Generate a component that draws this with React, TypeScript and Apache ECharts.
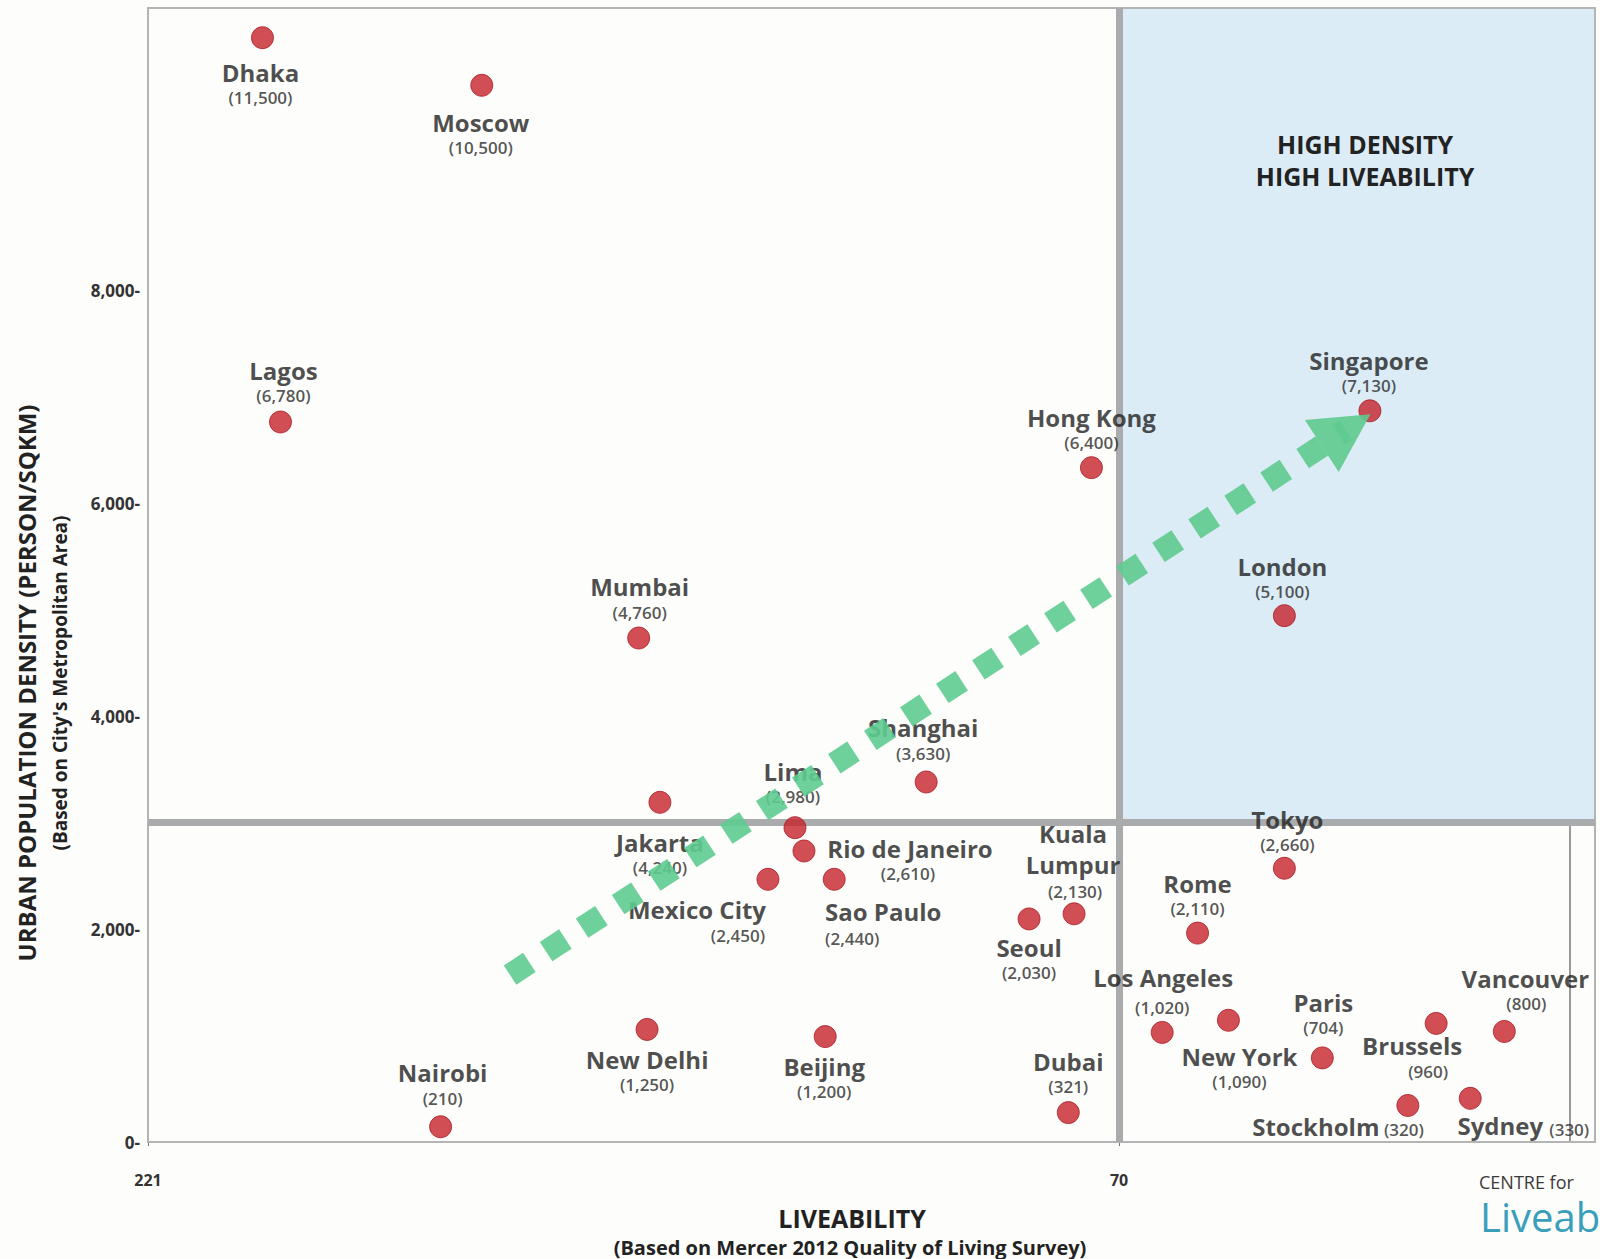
import React, { useEffect, useRef } from "react";
import * as echarts from "echarts";

// ---------- DATA ----------
const cities: string[] = [
  "Dhaka", "Moscow", "Lagos", "Mumbai", "Jakarta", "Lima", "Rio de Janeiro",
  "Mexico City", "Sao Paulo", "Shanghai", "Hong Kong", "Singapore", "London",
  "Tokyo", "Seoul", "Kuala\nLumpur", "Rome", "Los Angeles", "New York", "Paris",
  "Brussels", "Vancouver", "Stockholm", "Sydney", "Dubai", "Nairobi",
  "New Delhi", "Beijing",
];
// liveability rank (x)
const liveability: number[] = [
  203.2, 169.1, 200.4, 144.7, 141.4, 120.4, 119.0,
  124.6, 114.3, 100.0, 74.3, 31.0, 44.3,
  44.3, 84.0, 77.0, 57.8, 63.3, 53.0, 38.4,
  20.7, 10.1, 25.1, 15.4, 77.9, 175.5,
  143.4, 115.7,
];
// urban density (y)
const densityPlotted: number[] = [
  10371, 9924, 6762, 4733, 3190, 2952, 2733,
  2467, 2467, 3381, 6333, 6867, 4943,
  2571, 2095, 2143, 1962, 1029, 1143, 790,
  1114, 1038, 343, 410, 276, 143,
  1057, 990,
];
// density values as printed in the labels
const densityReported: number[] = [
  11500, 10500, 6780, 4760, 4240, 2980, 2610,
  2450, 2440, 3630, 6400, 7130, 5100,
  2660, 2030, 2130, 2110, 1020, 1090, 704,
  960, 800, 320, 330, 321, 210,
  1250, 1200,
];
const yTicks: number[] = [0, 2000, 4000, 6000, 8000];
const xTicks: number[] = [221, 70];
const quadrantX = 70;
const quadrantY = 3000;
const arrowFrom: [number, number] = [164.7, 1568];
const arrowTo: [number, number] = [34.7, 6685];

// ---------- LAYOUT (label offsets in px relative to dot) ----------
const nameOffsets: [number, number][] = [
  [-2, 35], [-1, 37], [3, -51], [1, -52], [0, 40], [-2, -56], [106, -2],
  [-71, 30], [49, 32], [-3, -54], [0, -50], [-1, -50], [-2, -49],
  [3, -49], [0, 29], [-1, -65], [0, -50], [1, -55], [11, 36], [1, -55],
  [-24, 22], [21, -53], [-92, 21], [30, 27], [0, -51], [2, -54],
  [0, 30], [-1, 30],
];
const valueOffsets: [number, number][] = [
  [-2, 60], [-1, 62], [3, -26], [1, -26], [0, 65], [-2, -31], [104, 23],
  [-30, 56], [18, 59], [-3, -28], [0, -25], [-1, -25], [-2, -24],
  [3, -24], [0, 54], [1, -22], [0, -25], [0, -25], [11, 61], [1, -30],
  [-8, 48], [22, -28], [-4, 24], [99, 31], [0, -26], [2, -28],
  [0, 55], [-1, 55],
];

const FONT = "'Open Sans', 'Noto Sans', sans-serif";
const GRID = { left: 148, right: 5, top: 8, bottom: 117 };

export default function App() {
  const ref = useRef<HTMLDivElement>(null);
  useEffect(() => {
    if (!ref.current) return;
    const W = 1600, H = 1259;
    const chart = echarts.init(ref.current, null, { renderer: "svg", width: W, height: H });

    const points = cities.map((c, i) => ({
      name: c,
      value: [liveability[i], densityPlotted[i]],
      label: { offset: nameOffsets[i] },
    }));
    const valuePts = cities.map((c, i) => ({
      name: c,
      value: [liveability[i], densityPlotted[i]],
      label: { offset: valueOffsets[i] },
      reported: densityReported[i],
    }));

    const option: any = {
      animation: false,
      backgroundColor: "#fdfdfb",
      grid: {
        ...GRID,
        containLabel: false, outerBoundsMode: "none",
        show: false,
      },
      xAxis: {
        type: "value", inverse: true, min: -4, max: 221,
        splitLine: { show: false },
        axisLine: { show: true, lineStyle: { color: "#a0a0a0", width: 2 } },
        axisTick: { show: true, customValues: xTicks, inside: false, length: 4, lineStyle: { color: "#777" } },
        axisLabel: {
          customValues: xTicks, margin: 30,
          fontFamily: FONT, fontWeight: "bold", fontSize: 16, color: "#333",
        },
      },
      yAxis: {
        type: "value", min: 0, max: 10650,
        splitLine: { show: false },
        axisLine: { show: true, lineStyle: { color: "#9a9a9a", width: 2 } },
        axisTick: { show: false },
        axisLabel: {
          customValues: yTicks, margin: 8,
          formatter: (v: number) => v.toLocaleString("en-US") + "-",
          fontFamily: FONT, fontWeight: "bold", fontSize: 17, color: "#333",
        },
      },
      series: [
        {
          type: "scatter", data: [], z: 1, silent: true,
          markArea: {
            silent: true, z: 1,
            itemStyle: { color: "#dcecf6" },
            label: {
              show: true, position: "insideTop", distance: 120, offset: [8, 0],
              formatter: "HIGH DENSITY\nHIGH LIVEABILITY",
              fontFamily: FONT, fontWeight: "bold", fontSize: 25, lineHeight: 32, color: "#222",
              align: "center",
            },
            data: [[{ coord: [quadrantX, quadrantY] }, { coord: [-4, 10650] }]],
          },
          markLine: {
            silent: true, z: 2, symbol: ["none", "none"],
            label: { show: false },
            lineStyle: { color: "#a9abad", width: 7, type: "solid" },
            data: [{ xAxis: quadrantX }, { yAxis: quadrantY }],
          },
        },
        {
          type: "scatter", z: 3, silent: true,
          symbol: "circle", symbolSize: 22,
          itemStyle: { color: "#c4222a", borderColor: "#a91c23", borderWidth: 1 },
          label: {
            show: true, position: "inside",
            formatter: (p: any) => p.name,
            fontFamily: FONT, fontWeight: "bold", fontSize: 24, lineHeight: 31, color: "#1f1f1f",
            align: "center", verticalAlign: "middle",
          },
          emphasis: { disabled: true },
          data: points,
        },
        {
          type: "scatter", z: 3, silent: true,
          symbol: "circle", symbolSize: 1,
          itemStyle: { color: "transparent" },
          label: {
            show: true, position: "inside",
            formatter: (p: any) => "(" + p.data.reported.toLocaleString("en-US") + ")",
            fontFamily: FONT, fontWeight: 600, fontSize: 17, color: "#2a2a2a",
            align: "center", verticalAlign: "middle",
          },
          emphasis: { disabled: true },
          data: valuePts,
        },
        {
          type: "scatter", data: [], z: 6, silent: true,
          markLine: {
            silent: true, z: 6,
            symbol: ["none", "triangle"],
            symbolSize: [62, 58],
            label: { show: false },
            lineStyle: { color: "#5ecb8f", width: 23, type: [23, 20], cap: "butt", opacity: 0.9 },
            data: [[{ coord: arrowFrom }, { coord: arrowTo }]],
          },
        },
      ],
      graphic: [
        {
          type: "rect", z: 2, silent: true,
          shape: { x: GRID.left, y: GRID.top, width: W - GRID.left - GRID.right, height: H - GRID.top - GRID.bottom },
          style: { fill: "none", stroke: "#b4b4b4", lineWidth: 2 },
        },
        {
          type: "text", x: 26, y: 683, rotation: Math.PI / 2,
          style: {
            text: "URBAN POPULATION DENSITY (PERSON/SQKM)",
            font: `bold 24px ${FONT}`, fill: "#222",
            align: "center", verticalAlign: "middle", textAlign: "center", textVerticalAlign: "middle",
          },
        },
        {
          type: "text", x: 60, y: 683, rotation: Math.PI / 2,
          style: {
            text: "(Based on City's Metropolitan Area)",
            font: `bold 19px ${FONT}`, fill: "#222",
            align: "center", verticalAlign: "middle", textAlign: "center", textVerticalAlign: "middle",
          },
        },
        {
          type: "text", x: 852, y: 1218,
          style: {
            text: "LIVEABILITY",
            font: `bold 25px ${FONT}`, fill: "#222",
            align: "center", verticalAlign: "middle", textAlign: "center", textVerticalAlign: "middle",
          },
        },
        {
          type: "text", x: 850, y: 1247,
          style: {
            text: "(Based on Mercer 2012 Quality of Living Survey)",
            font: `bold 20px ${FONT}`, fill: "#222",
            align: "center", verticalAlign: "middle", textAlign: "center", textVerticalAlign: "middle",
          },
        },
        {
          type: "text", x: 1479, y: 1182,
          style: {
            text: "CENTRE for",
            font: `18px ${FONT}`, fill: "#3a3a3a",
            align: "left", verticalAlign: "middle", textAlign: "left", textVerticalAlign: "middle",
          },
        },
        {
          type: "text", x: 1480, y: 1216,
          style: {
            text: "Liveability",
            font: `40px ${FONT}`, fill: "#3a9fba",
            align: "left", verticalAlign: "middle", textAlign: "left", textVerticalAlign: "middle",
          },
        },
      ],
    };
    chart.setOption(option);
    return () => chart.dispose();
  }, []);
  return (
    <div
      ref={ref}
      style={{ position: "absolute", left: 0, top: 0, width: 1600, height: 1259 }}
    />
  );
}
